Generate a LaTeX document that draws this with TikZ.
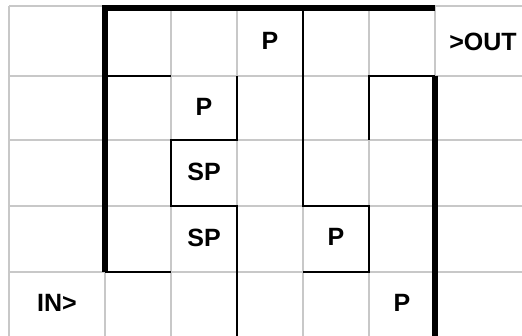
\documentclass[tikz,border=0pt]{standalone}
\usepackage{fontspec}
\setmainfont{Liberation Sans}
\definecolor{gridgray}{RGB}{200,200,200}

\begin{document}
\begin{tikzpicture}[x=1pt,y=-1pt,
  cell/.style={font=\fontsize{25}{30}\selectfont\bfseries},
  wall/.style={line width=6pt,black},
  thinwall/.style={line width=2pt,black}]
\useasboundingbox (0,0) rectangle (522,336);
% grid
\draw[line width=2pt,gridgray] (9,6)--(522,6) (9,75.7)--(522,75.7) (9,140)--(522,140)
  (9,205.7)--(522,205.7) (9,271.7)--(522,271.7);
\draw[line width=2pt,gridgray] (9,6)--(9,336) (105,6)--(105,336) (171,6)--(171,336)
  (237,6)--(237,336) (303,6)--(303,336) (369,6)--(369,336) (435,6)--(435,336);
% outer walls
\draw[wall] (105,271.7)--(105,8)--(435,8);
\draw[wall] (435,75.7)--(435,336);
% inner walls
\draw[thinwall] (105,75.7)--(171,75.7);
\draw[thinwall] (237,75.7)--(237,140)--(171,140)--(171,205.7)--(237,205.7)--(237,336);
\draw[thinwall] (105,271.7)--(171,271.7);
\draw[thinwall] (303,8)--(303,205.7)--(369,205.7)--(369,271.7)--(303,271.7);
\draw[thinwall] (435,75.7)--(369,75.7)--(369,140);
% labels
\node[cell] (p1) at (270,41) {P};
\node[cell] (out) at (483,42) {>OUT};
\node[cell] (p2) at (204,107) {P};
\node[cell] (sp1) at (204,172) {SP};
\node[cell] (sp2) at (204,238) {SP};
\node[cell] (p3) at (336,237) {P};
\node[cell] (in) at (57,303) {IN>};
\node[cell] (p4) at (402,303) {P};
\end{tikzpicture}
\end{document}
